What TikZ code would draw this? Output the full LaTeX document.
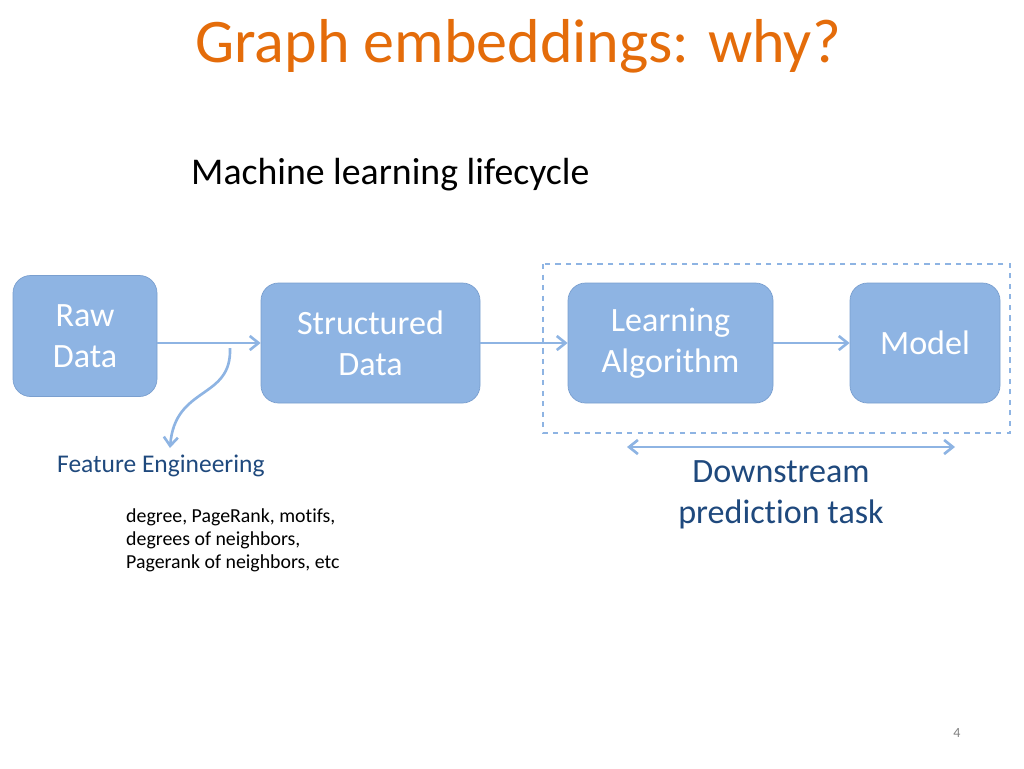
\documentclass[tikz,border=0pt]{standalone}
\usepackage{fontspec}
\setmainfont{Carlito}[Ligatures=NoCommon]
\usetikzlibrary{positioning,arrows.meta}
\definecolor{boxfill}{HTML}{8EB4E3}
\definecolor{boxline}{HTML}{7A9FCF}
\definecolor{arrowc}{HTML}{8EB4E3}
\definecolor{titlec}{HTML}{E46C0A}
\definecolor{darkblue}{HTML}{1F497D}
\tikzset{
  stage/.style={rounded corners=10pt,fill=boxfill,draw=boxline,text=white,align=center,font=\fontsize{19.4}{23.5}\selectfont,inner sep=0pt},
  flow/.style={-{Straight Barb[length=5pt,width=8pt]},arrowc,line width=1.5pt}
}
\begin{document}
\begin{tikzpicture}[x=0.02cm,y=-0.02cm]
    \useasboundingbox (0,0) rectangle (1024,768);
    % Title
    \node[titlec,font=\fontsize{35.3}{40}\selectfont] (title) at (518,46) {Graph embeddings: why?};
    \node[anchor=west,font=\fontsize{21.5}{25}\selectfont] (sub) at (185,175) {Machine learning lifecycle};
    
    % Stages
    \node[stage,minimum width=144*0.02cm,minimum height=121*0.02cm] (raw) at (85,336) {Raw\\Data};
    \node[stage,minimum width=219*0.02cm,minimum height=120*0.02cm] (struct) at (370.5,343) {Structured\\Data};
    \node[stage,minimum width=205*0.02cm,minimum height=120*0.02cm] (learn) at (670.5,343) {Learning\\Algorithm};
    \node[stage,minimum width=150*0.02cm,minimum height=120*0.02cm] (model) at (925,343) {Model};
    
    % Downstream box
    \draw[dashed,arrowc,line width=1.5pt] (543,264) rectangle (1010,433);
    
    % Arrows
    \draw[flow] (raw.east |- struct.west) -- (struct.west);
    \draw[flow] (struct) -- (learn);
    \draw[flow] (learn) -- (model);
    \coordinate (fe) at (170,448);
    \draw[flow] (230,348) .. controls (232,400) and (175,385) .. (fe);
    \draw[{Straight Barb[length=5pt,width=8pt]}-{Straight Barb[length=5pt,width=8pt]},arrowc,line width=1.5pt] (627,447) -- (955,447);
    
    % Labels
    \node[darkblue,anchor=west,font=\fontsize{14.5}{17}\selectfont] (feat) at (51,466) {Feature Engineering};
    \node[anchor=north west,align=left,font=\fontsize{11.3}{13.2}\selectfont] (feats) at (120,502) {degree, PageRank, motifs,\\degrees of neighbors,\\Pagerank of neighbors, etc};
    \node[darkblue,align=center,font=\fontsize{19.4}{23.5}\selectfont] (down) at (781,495) {Downstream\\prediction task};
    \node[gray,font=\fontsize{8}{10}\selectfont] (page) at (957,733) {4};
\end{tikzpicture}
\end{document}
